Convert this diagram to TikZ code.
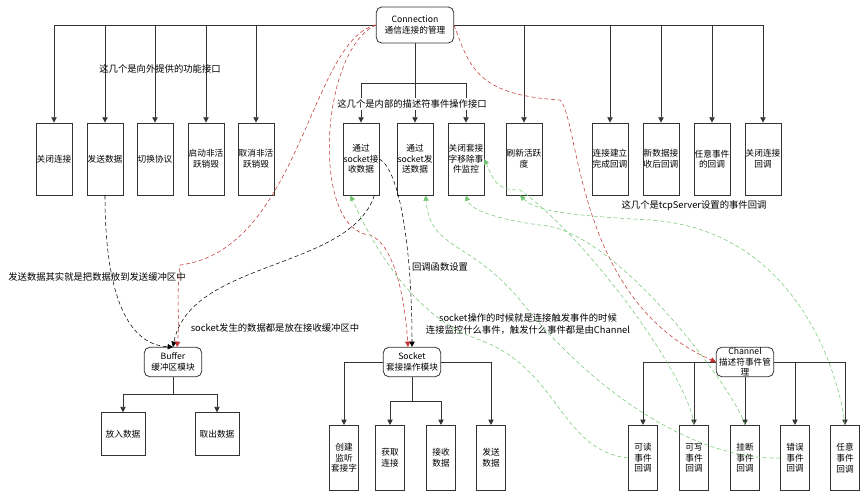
\documentclass[tikz,border=0pt]{standalone}
\usepackage{fontspec}
\setmainfont{Noto Sans CJK SC}
\usetikzlibrary{arrows.meta}
\begin{document}
\begin{tikzpicture}[x=0.75pt,y=-0.75pt,
  every node/.style={font=\fontsize{6.5}{8}\selectfont,align=center,inner sep=1pt},
  box/.style={draw=black!80,semithick,minimum width=27pt,minimum height=54pt,inner sep=0pt},
  cbox/.style={draw=black!80,semithick,minimum width=22pt,minimum height=49pt,inner sep=0pt},
  bbox/.style={draw=black!80,semithick,minimum width=33pt,minimum height=32pt},
  mod/.style={draw=black!80,semithick,rounded corners=4pt,minimum width=43pt,minimum height=22pt,inner sep=0pt},
  ln/.style={draw=black!80,semithick},
  ar/.style={ln,-{Triangle[length=4pt,width=4pt]}},
  bd/.style={black,densely dashed,-{Triangle[length=4pt,width=4pt]}},
  rd/.style={red!70!black!80,densely dashed,-{Triangle[length=4pt,width=4pt]}},
  gd/.style={green!60!black!55,densely dashed,-{Triangle[length=4pt,width=4pt]}},
  lbl/.style={font=\fontsize{7}{9}\selectfont}]
\useasboundingbox (0,0) rectangle (868,500);
\node[mod,minimum width=58pt,minimum height=27pt] (conn) at (415,25) {Connection\\通信连接的管理};
\node[box] (a1) at (54,159) {关闭连接};
\node[box] (a2) at (105,159) {发送数据};
\node[box] (a3) at (155,159) {切换协议};
\node[box] (a4) at (206,159) {启动非活\\跃销毁};
\node[box] (a5) at (256,159) {取消非活\\跃销毁};
\node[box] (b1) at (361,159) {通过\\socket接\\收数据};
\node[box] (b2) at (415,159) {通过\\socket发\\送数据};
\node[box] (b3) at (466,159) {关闭套接\\字移除事\\件监控};
\node[box] (b4) at (524,159) {刷新活跃\\度};
\node[box] (c1) at (610,159) {连接建立\\完成回调};
\node[box] (c2) at (661,159) {新数据接\\收后回调};
\node[box] (c3) at (712,159) {任意事件\\的回调};
\node[box] (c4) at (763,159) {关闭连接\\回调};
\coordinate (busL) at (54,25);
\coordinate (busR) at (763,25);
\draw[ln] (busL) -- (conn.west) (conn.east) -- (busR);
\foreach \n in {a1,a2,a3,a4,a5,b4,c1,c2,c3,c4}{\draw[ar] (\n.north|-busL) -- (\n.north);}
\draw[ar] (conn.south) -- (b2.north);
\coordinate (ib) at (361,83);
\draw[ln] (ib) -- (466,83);
\draw[ar] (b1.north|-ib) -- (b1.north);
\draw[ar] (b3.north|-ib) -- (b3.north);
\node[lbl] (t1) at (160,69) {这几个是向外提供的功能接口};
\node[lbl,fill=white] (t2) at (412,104) {这几个是内部的描述符事件操作接口};
\node[lbl] (t3) at (694,206) {这几个是tcpServer设置的事件回调};
% modules
\node[mod] (buf) at (173,362) {Buffer\\缓冲区模块};
\node[bbox] (p1) at (123,434) {放入数据};
\node[bbox] (p2) at (217,434) {取出数据};
\coordinate (bb) at (173,394);
\draw[ln] (buf.south) -- (bb);
\draw[ar] (bb) -| (p1.north);
\draw[ar] (bb) -| (p2.north);
\node[mod] (sock) at (412,362) {Socket\\套接操作模块};
\node[cbox] (s1) at (344,458) {创建\\监听\\套接字};
\node[cbox] (s2) at (390,458) {获取\\连接};
\node[cbox] (s3) at (441,458) {接收\\数据};
\node[cbox] (s4) at (491,458) {发送\\数据};
\draw[ar] (sock.west) -| (s1.north);
\draw[ar] (sock.east) -| (s4.north);
\coordinate (sb) at (412,401);
\draw[ln] (sock.south) -- (sb);
\draw[ar] (sb) -| (s2.north);
\draw[ar] (sb) -| (s3.north);
\node[mod] (ch) at (745,362) {Channel\\描述符事件管\\理};
\node[cbox] (e1) at (643,458) {可读\\事件\\回调};
\node[cbox] (e2) at (694,458) {可写\\事件\\回调};
\node[cbox] (e3) at (745,458) {挂断\\事件\\回调};
\node[cbox] (e4) at (795,458) {错误\\事件\\回调};
\node[cbox] (e5) at (845,458) {任意\\事件\\回调};
\draw[ar] (ch.west) -| (e1.north);
\draw[ar] (e2.north|-ch.west) -- (e2.north);
\draw[ar] (ch.south) -- (e3.north);
\draw[ar] (ch.east) -| (e5.north);
\draw[ar] (e4.north|-ch.east) -- (e4.north);
% labels
\node[lbl] (t4) at (97,277) {发送数据其实就是把数据放到发送缓冲区中};
\node[lbl] (t5) at (275,328) {socket发生的数据都是放在接收缓冲区中};
\node[lbl] (t6) at (440,267) {回调函数设置};
\node[lbl] (t7) at (528,324) {socket操作的时候就是连接触发事件的时候\\连接监控什么事件，触发什么事件都是由Channel};
% dashed
\draw[bd] (a2.south) .. controls (105,300) and (130,345) .. (buf.north);
\draw[bd] ([xshift=10pt]b1.south) .. controls (350,270) and (190,260) .. (buf.north);
\draw[bd] (b1.east) .. controls (400,170) and (412,250) .. (sock.north);
\draw[rd] (conn.west) .. controls (310,40) and (300,250) .. (180,265) .. controls (176,300) and (180,320) .. ([xshift=3pt]buf.north);
\draw[rd] (conn.west) .. controls (320,50) and (310,230) .. (370,235) .. controls (395,245) and (405,300) .. ([xshift=-3pt]sock.north);
\draw[rd] (conn.east) .. controls (470,70) and (480,95) .. (560,100) .. controls (580,120) and (575,300) .. (ch.west);
\draw[gd] (e1.west) .. controls (560,450) and (560,370) .. (480,340) .. controls (420,320) and (380,260) .. ([xshift=-8pt]b1.south);
\draw[gd] (e4.west) .. controls (700,460) and (600,400) .. (520,300) .. controls (470,240) and (430,250) .. ([xshift=8pt]b2.south);
\draw[gd] (e3.north) .. controls (740,400) and (620,230) .. (540,225) .. controls (500,220) and (470,210) .. (b3.south);
\draw[gd] (e2.north) .. controls (690,380) and (590,240) .. (520,190) .. controls (500,190) and (495,185) .. (b3.east);
\draw[gd] (e5.north) .. controls (840,380) and (800,230) .. (650,220) .. controls (560,215) and (535,210) .. ([xshift=-3pt]b4.south);
\end{tikzpicture}
\end{document}
